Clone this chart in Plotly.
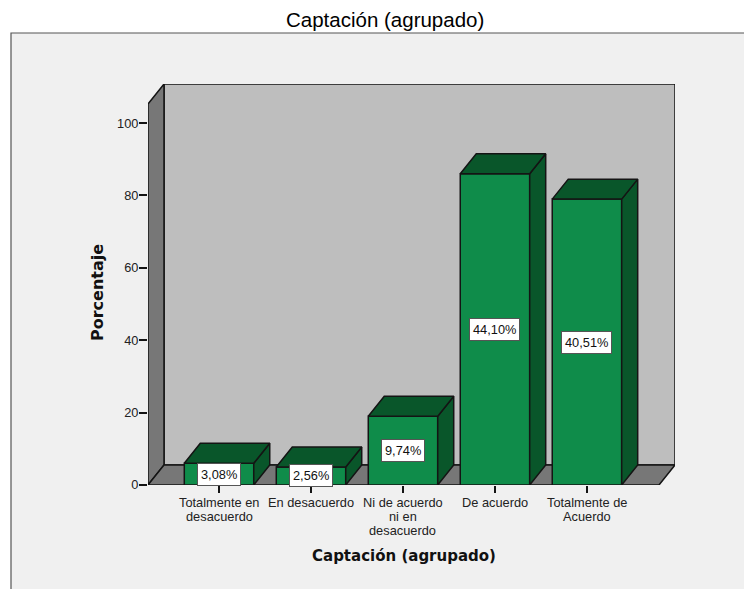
import plotly.graph_objects as go

# Survey results: share of each answer and number of respondents behind the axis scale
categories = ["Totalmente en<br>desacuerdo", "En desacuerdo", "Ni de acuerdo<br>ni en<br>desacuerdo",
              "De acuerdo", "Totalmente de<br>Acuerdo"]
percentages = [3.08, 2.56, 9.74, 44.10, 40.51]
respondents = 195
y_ticks = [0, 20, 40, 60, 80, 100]

heights = [p * respondents / 100 for p in percentages]
positions = list(range(len(categories)))

# Pseudo-3D extrusion, in axis units
BAR_WIDTH = 0.755
DEPTH_X = 0.174
DEPTH_Y = 5.52
X_MIN, X_MAX = -0.772, 4.957
Y_MAX = 110.8
FRONT_RIGHT = X_MAX - DEPTH_X
FRONT_TOP = Y_MAX - DEPTH_Y

WIDTH, HEIGHT = 744, 589
M_L, M_R, M_T, M_B = 148, 69, 84, 104
PLOT_W, PLOT_H = WIDTH - M_L - M_R, HEIGHT - M_T - M_B

GREEN = "#0f8c4a"
DARK_GREEN = "#09562a"
WALL = "#bebebe"
SIDE = "#777777"
INK = "#141414"
PANEL = "#f0f0f0"
FONT = "Liberation Sans"
BOLD_FONT = "DejaVu Sans"


def px_x(px):
    return (px - M_L) / PLOT_W


def px_y(py):
    return (HEIGHT - M_B - py) / PLOT_H


def poly_path(points):
    return "M " + " L ".join(f"{x},{y}" for x, y in points) + " Z"


def wall_shape(points, fill):
    return dict(type="path", xref="x", yref="y", layer="below", path=poly_path(points),
                fillcolor=fill, line=dict(color=INK, width=1.5))


def block_face(points, name):
    xs = [p[0] for p in points] + [points[0][0]]
    ys = [p[1] for p in points] + [points[0][1]]
    return go.Scatter(x=xs, y=ys, mode="lines", fill="toself", fillcolor=DARK_GREEN,
                      line=dict(color=INK, width=1.5), hoverinfo="skip", showlegend=False, name=name)


def centered_text(px, py, text, font, **extra):
    return dict(xref="paper", yref="paper", x=px_x(px), y=px_y(py), xanchor="center", yanchor="middle",
                text=text, showarrow=False, font=font, **extra)


fig = go.Figure()

# Front faces of the bars
fig.add_trace(go.Bar(x=positions, y=heights, width=BAR_WIDTH, marker=dict(color=GREEN, line=dict(color=INK, width=1.5)),
                     showlegend=False, customdata=percentages, hovertemplate="%{customdata}%<extra></extra>"))

# Side and top faces of the bars
for pos, h in zip(positions, heights):
    left, right = pos - BAR_WIDTH / 2, pos + BAR_WIDTH / 2
    fig.add_trace(block_face([(right, 0), (right + DEPTH_X, DEPTH_Y), (right + DEPTH_X, h + DEPTH_Y), (right, h)], "lado"))
    fig.add_trace(block_face([(left, h), (left + DEPTH_X, h + DEPTH_Y), (right + DEPTH_X, h + DEPTH_Y), (right, h)], "tapa"))

shapes = [
    # Outer panel behind the chart
    dict(type="rect", xref="paper", yref="paper", layer="below", x0=px_x(11), x1=px_x(760),
         y0=px_y(610), y1=px_y(33), fillcolor=PANEL, line=dict(color="#555555", width=1.2)),
    # Back wall, side wall and floor
    wall_shape([(X_MIN + DEPTH_X, DEPTH_Y), (X_MAX, DEPTH_Y), (X_MAX, Y_MAX), (X_MIN + DEPTH_X, Y_MAX)], WALL),
    wall_shape([(X_MIN, 0), (X_MIN + DEPTH_X, DEPTH_Y), (X_MIN + DEPTH_X, Y_MAX), (X_MIN, FRONT_TOP)], SIDE),
    wall_shape([(X_MIN, 0), (FRONT_RIGHT, 0), (X_MAX, DEPTH_Y), (X_MIN + DEPTH_X, DEPTH_Y)], SIDE),
]

annotations = [
    centered_text(384.5, 19, "Captación (agrupado)", dict(family=FONT, size=20.5, color="#000000")),
    centered_text(404, 556, "<b>Captación (agrupado)</b>", dict(family=BOLD_FONT, size=15, color="#111111")),
    centered_text(97, 293, "<b>Porcentaje</b>", dict(family=BOLD_FONT, size=16, color="#111111"), textangle=-90),
]

# Category labels, set line by line under each tick for tight leading
LINE_STEP = 14
for pos, label in zip(positions, categories):
    for row, line in enumerate(label.split("<br>")):
        annotations.append(dict(x=pos, xref="x", yref="paper", y=0, xanchor="center", yanchor="middle",
                                yshift=-(17 + row * LINE_STEP), text=line, showarrow=False,
                                font=dict(family=FONT, size=12.8, color="#222222")))

# Percentage labels in the middle of each front face
for pos, h, pct in zip(positions, heights, percentages):
    annotations.append(dict(x=pos, y=h / 2, xref="x", yref="y", text=f"{pct:.2f}%".replace(".", ","), showarrow=False,
                            bgcolor="white", bordercolor="#555555", borderwidth=1, borderpad=3,
                            font=dict(family=FONT, size=12.8, color="#111111")))

fig.update_layout(
    width=WIDTH, height=HEIGHT, margin=dict(l=M_L, r=M_R, t=M_T, b=M_B, autoexpand=False),
    paper_bgcolor="white", plot_bgcolor="rgba(0,0,0,0)", shapes=shapes, annotations=annotations,
    showlegend=False, barmode="overlay",
    xaxis=dict(range=[X_MIN, X_MAX], tickmode="array", tickvals=positions, showticklabels=False,
               ticks="outside", ticklen=7, tickwidth=1.5, tickcolor=INK, showgrid=False, zeroline=False,
               showline=False),
    yaxis=dict(range=[0, Y_MAX], tickmode="array", tickvals=y_ticks, ticks="outside", ticklen=8, tickwidth=1.5,
               tickcolor=INK, showgrid=False, zeroline=False, showline=False, ticklabelstandoff=-2,
               tickfont=dict(family=FONT, size=12.8, color="#222222")),
)

fig.write_html("out.html")
